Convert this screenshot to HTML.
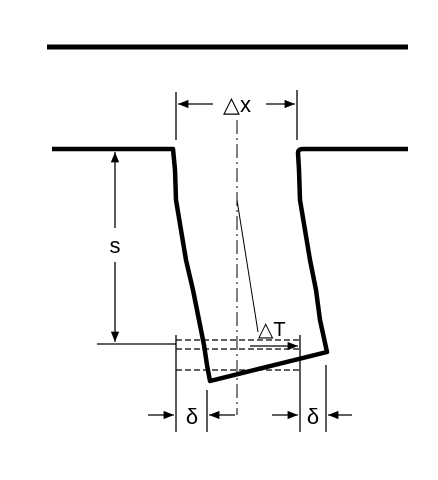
<!DOCTYPE html>
<html><head><meta charset="utf-8"><style>body{margin:0;background:#fff}svg{display:block}text{font-family:"Liberation Sans",sans-serif;fill:#000}</style></head>
<body>
<svg width="438" height="480" viewBox="0 0 438 480">
<defs><marker id="a" viewBox="0 0 10 10" refX="10" refY="5" markerWidth="8" markerHeight="8" orient="auto-start-reverse"><path d="M0,1 L10,5 L0,9 z" fill="#000"/></marker></defs>
<line x1="47" y1="47" x2="408" y2="47" stroke="#000" stroke-width="5"/>
<path d="M52,149 L173,149 L175,170 L176,200 L181,230 L186,260 L193,290 L199,320 L204,345 L207,365 L210,381 L327,352 L320,320 L316,290 L310,260 L305,230 L300,200 L299,170 L298,153 Q298,149 303,149 L408,149" fill="none" stroke="#000" stroke-width="4.5" stroke-linejoin="round"/>
<g stroke="#000" stroke-width="1.3">
<line x1="176" y1="92" x2="176" y2="140"/><line x1="297" y1="90" x2="297" y2="140"/>
<line x1="213" y1="104" x2="178" y2="104" marker-end="url(#a)"/><line x1="266" y1="104" x2="295" y2="104" marker-end="url(#a)"/>
</g>
<text x="237" y="112" font-size="22" text-anchor="middle">△x</text>
<line x1="237" y1="120" x2="237" y2="415" stroke="#000" stroke-width="1" stroke-dasharray="14,4,2,4"/>
<line x1="237" y1="200" x2="258" y2="332" stroke="#000" stroke-width="1"/>
<g stroke="#000" stroke-width="1.3">
<line x1="115" y1="228" x2="115" y2="152" marker-end="url(#a)"/><line x1="115" y1="262" x2="115" y2="342" marker-end="url(#a)"/>
<line x1="97" y1="344" x2="176" y2="344"/>
</g>
<text x="115" y="253" font-size="22" text-anchor="middle">s</text>
<g stroke="#000" stroke-width="1.2" stroke-dasharray="6,3">
<line x1="176" y1="340" x2="300" y2="340"/><line x1="176" y1="349" x2="300" y2="349"/><line x1="176" y1="370" x2="300" y2="370"/>
</g>
<text x="258" y="336" font-size="20">△T</text>
<line x1="250" y1="346" x2="298" y2="346" stroke="#000" stroke-width="1.3" marker-end="url(#a)"/>
<g stroke="#000" stroke-width="1.3">
<line x1="176" y1="335" x2="176" y2="432"/><line x1="207" y1="390" x2="207" y2="432"/>
<line x1="300" y1="335" x2="300" y2="432"/><line x1="326" y1="365" x2="326" y2="432"/>
<line x1="148" y1="415" x2="174" y2="415" marker-end="url(#a)"/><line x1="235" y1="415" x2="209" y2="415" marker-end="url(#a)"/>
<line x1="272" y1="415" x2="298" y2="415" marker-end="url(#a)"/><line x1="352" y1="415" x2="328" y2="415" marker-end="url(#a)"/>
</g>
<text x="192" y="424" font-size="22" text-anchor="middle">δ</text>
<text x="313" y="424" font-size="22" text-anchor="middle">δ</text>
</svg>
</body></html>
